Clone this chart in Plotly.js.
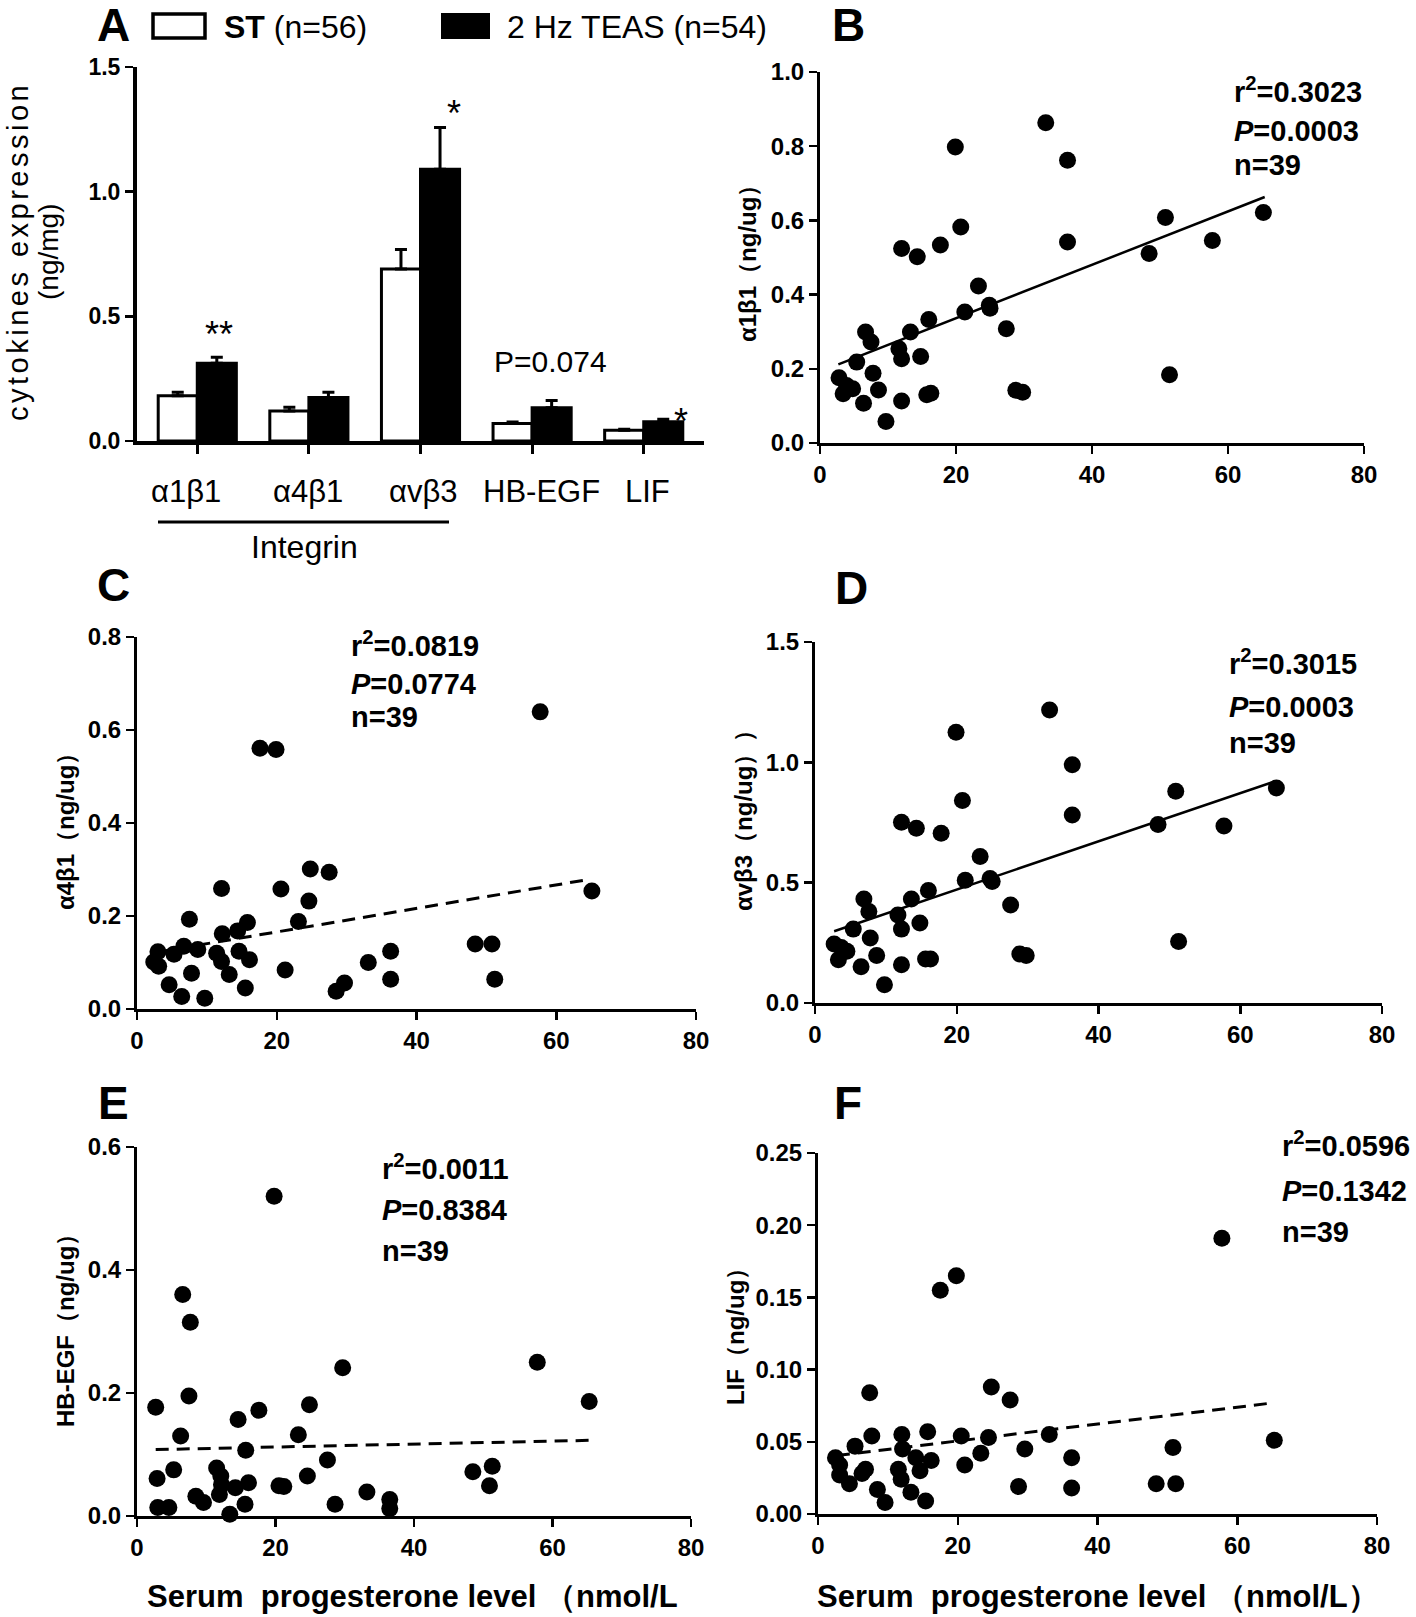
<!DOCTYPE html>
<html>
<head>
<meta charset="utf-8">
<script src="https://cdn.plot.ly/plotly-3.0.1.min.js"></script>
<style>html,body{margin:0;padding:0;background:#fff;}#chart{width:1416px;height:1617px;}</style>
</head>
<body>
<div id="chart"></div>
<script>
// ---------- Panel A data ----------
const barCategories = ["α1β1", "α4β1", "αvβ3", "HB-EGF", "LIF"];
const stMeans   = [0.181, 0.120, 0.690, 0.070, 0.043];
const stErr     = [0.015, 0.015, 0.078, 0.006, 0.004];
const teasMeans = [0.312, 0.174, 1.090, 0.133, 0.077];
const teasErr   = [0.024, 0.022, 0.167, 0.029, 0.010];
const stName = "ST (n=56)";
const teasName = "2 Hz TEAS (n=54)";

// ---------- Panel B: α1β1 vs progesterone ----------
const bX = [33.2,19.9,36.4,20.7,50.8,65.2,36.4,57.7,48.4,12.0,14.3,17.7,23.3,21.3,24.9,25.0,16.0,27.4,6.7,7.5,13.3,11.6,12.0,14.8,5.4,7.8,2.8,3.4,3.9,4.8,8.6,6.4,12.0,9.7,15.7,16.3,28.8,29.8,51.4];
const bY = [0.863,0.798,0.762,0.582,0.608,0.621,0.542,0.546,0.511,0.524,0.502,0.534,0.423,0.353,0.371,0.363,0.333,0.308,0.299,0.272,0.299,0.254,0.227,0.233,0.218,0.188,0.176,0.133,0.155,0.146,0.143,0.107,0.113,0.058,0.130,0.134,0.142,0.137,0.184];
const bFitX = [2.7, 65.4];
const bFitY = [0.212, 0.663];

// ---------- Panel C: α4β1 ----------
const cX = [57.7,17.6,19.9,24.8,27.5,12.1,20.6,65.1,24.6,7.5,23.1,15.8,14.4,12.2,3.0,5.3,6.7,8.7,2.4,3.1,11.4,12.1,13.2,14.6,16.1,7.8,4.6,6.4,9.7,15.5,21.2,28.5,29.7,33.1,36.3,36.3,48.4,50.8,51.2];
const cY = [0.639,0.561,0.558,0.301,0.294,0.259,0.258,0.254,0.232,0.193,0.188,0.186,0.168,0.162,0.123,0.118,0.135,0.128,0.101,0.092,0.120,0.102,0.074,0.124,0.106,0.077,0.052,0.027,0.023,0.045,0.084,0.038,0.056,0.100,0.124,0.064,0.140,0.140,0.064];
const cFitX = [2.7, 64.8];
const cFitY = [0.122, 0.279];

// ---------- Panel D: αvβ3 ----------
const dX = [33.1,19.9,36.3,20.8,50.9,65.1,36.3,57.7,48.4,12.2,14.3,17.8,23.3,21.2,24.7,25.0,16.0,27.6,6.9,7.6,13.6,11.7,12.2,14.8,5.4,7.8,2.7,3.3,4.5,8.7,6.5,12.2,9.8,15.6,16.3,28.9,29.8,51.3,3.7];
const dY = [1.217,1.125,0.990,0.841,0.880,0.893,0.781,0.735,0.742,0.751,0.726,0.705,0.609,0.510,0.517,0.505,0.467,0.407,0.432,0.380,0.432,0.366,0.307,0.332,0.307,0.270,0.245,0.180,0.215,0.197,0.151,0.159,0.076,0.183,0.183,0.204,0.197,0.256,0.231];
const dFitX = [2.7, 64.8];
const dFitY = [0.298, 0.920];

// ---------- Panel E: HB-EGF ----------
const eX = [19.8,6.6,7.7,29.7,57.8,2.7,7.5,65.3,24.9,17.6,14.6,6.3,23.3,15.7,27.5,2.9,5.3,11.5,12.1,12.2,14.2,16.1,24.6,20.5,21.2,48.5,51.3,50.9,8.5,9.6,11.9,3.0,4.6,13.4,15.6,28.6,33.2,36.5,36.5];
const eY = [0.520,0.360,0.315,0.241,0.250,0.177,0.195,0.186,0.181,0.172,0.157,0.130,0.132,0.107,0.091,0.061,0.075,0.078,0.065,0.051,0.046,0.054,0.065,0.049,0.048,0.072,0.081,0.049,0.032,0.022,0.035,0.014,0.014,0.003,0.019,0.019,0.039,0.027,0.012];
const eFitX = [2.7, 65.3];
const eFitY = [0.108, 0.123];

// ---------- Panel F: LIF ----------
const fX = [57.8,19.8,17.5,24.8,27.5,7.4,7.7,12.0,15.7,20.5,24.4,33.1,65.3,5.3,29.6,50.8,12.1,23.3,2.5,36.3,14.0,16.2,21.0,6.8,11.5,14.6,3.1,6.3,4.5,11.9,8.5,13.3,9.6,15.4,28.7,36.3,48.4,51.2,3.1];
const fY = [0.191,0.165,0.155,0.088,0.079,0.084,0.054,0.055,0.057,0.054,0.053,0.055,0.051,0.047,0.045,0.046,0.045,0.042,0.039,0.039,0.039,0.037,0.034,0.031,0.031,0.030,0.027,0.028,0.021,0.024,0.017,0.015,0.008,0.009,0.019,0.018,0.021,0.021,0.034];
const fFitX = [2.7, 65.2];
const fFitY = [0.0405, 0.077];

const xTicks = [0, 20, 40, 60, 80];
const progTitleLeft = "Serum  progesterone level （nmol/L";
const progTitleRight = "Serum  progesterone level （nmol/L）";

// ---------- helpers ----------
const W = 1416, H = 1617;
const px = v => v / W;
const py = v => 1 - v / H;
const FONT = "Liberation Sans, Arial, sans-serif";
const tickFont = {family: FONT, size: 24, color: "#000", weight: "bold"};

function scatterAxis(domain, extra) {
  return Object.assign({
    domain: domain, showgrid: false, zeroline: false, showline: true,
    linecolor: "#000", linewidth: 3, ticks: "outside", ticklen: 8, tickwidth: 2.5,
    tickcolor: "#000", tickfont: tickFont, fixedrange: true
  }, extra);
}

const traces = [];
// Panel A bars
traces.push({type: "bar", x: barCategories, y: stMeans, name: stName, xaxis: "x", yaxis: "y",
  marker: {color: "#fff", line: {color: "#000", width: 3}},
  error_y: {type: "data", symmetric: false, array: stErr, arrayminus: stMeans.map(() => 0), color: "#000", thickness: 3, width: 6},
  showlegend: false});
traces.push({type: "bar", x: barCategories, y: teasMeans, name: teasName, xaxis: "x", yaxis: "y",
  marker: {color: "#000", line: {color: "#000", width: 3}},
  error_y: {type: "data", symmetric: false, array: teasErr, arrayminus: teasMeans.map(() => 0), color: "#000", thickness: 3, width: 6},
  showlegend: false});

function addScatter(xs, ys, fx, fy, n, dashed) {
  traces.push({type: "scatter", mode: "lines", x: fx, y: fy, xaxis: "x" + n, yaxis: "y" + n,
    line: {color: "#000", width: dashed ? 3 : 2.5, dash: dashed ? "13px,8px" : "solid"}, showlegend: false, cliponaxis: false});
  traces.push({type: "scatter", mode: "markers", x: xs, y: ys, xaxis: "x" + n, yaxis: "y" + n,
    marker: {color: "#000", size: 17, line: {width: 0}}, showlegend: false, cliponaxis: false});
}
addScatter(bX, bY, bFitX, bFitY, 2, false);
addScatter(cX, cY, cFitX, cFitY, 3, true);
addScatter(dX, dY, dFitX, dFitY, 4, false);
addScatter(eX, eY, eFitX, eFitY, 5, true);
addScatter(fX, fY, fFitX, fFitY, 6, true);

const xAx = (d) => scatterAxis(d, {range: [0, 80], tickvals: xTicks, ticktext: xTicks.map(String)});

const layout = {
  width: W, height: H, margin: {l: 0, r: 0, t: 0, b: 0},
  paper_bgcolor: "#fff", plot_bgcolor: "rgba(0,0,0,0)",
  barmode: "group", bargap: 0.3, bargroupgap: 0,
  showlegend: false,
  // Panel A
  xaxis: scatterAxis([px(137), px(704)], {type: "category", range: [-0.54, 4.54], showticklabels: false, linewidth: 4, ticklen: 9, tickwidth: 3}),
  yaxis: scatterAxis([py(441), py(67)], {range: [0, 1.5], tickvals: [0, 0.5, 1.0, 1.5], ticktext: ["0.0","0.5","1.0","1.5"], linewidth: 4, tickfont: {family: FONT, size: 23, color: "#000", weight: "bold"}}),
  // Panel B
  xaxis2: xAx([px(820), px(1364)]),
  yaxis2: scatterAxis([py(443), py(72)], {anchor: "x2", range: [0, 1.0], tickvals: [0,0.2,0.4,0.6,0.8,1.0], ticktext: ["0.0","0.2","0.4","0.6","0.8","1.0"]}),
  // Panel C
  xaxis3: xAx([px(137), px(696)]),
  yaxis3: scatterAxis([py(1009), py(637)], {anchor: "x3", range: [0, 0.8], tickvals: [0,0.2,0.4,0.6,0.8], ticktext: ["0.0","0.2","0.4","0.6","0.8"]}),
  // Panel D
  xaxis4: xAx([px(815), px(1382)]),
  yaxis4: scatterAxis([py(1003), py(642)], {anchor: "x4", range: [0, 1.5], tickvals: [0,0.5,1.0,1.5], ticktext: ["0.0","0.5","1.0","1.5"]}),
  // Panel E
  xaxis5: xAx([px(137), px(691)]),
  yaxis5: scatterAxis([py(1516), py(1147)], {anchor: "x5", range: [0, 0.6], tickvals: [0,0.2,0.4,0.6], ticktext: ["0.0","0.2","0.4","0.6"]}),
  // Panel F
  xaxis6: xAx([px(818), px(1377)]),
  yaxis6: scatterAxis([py(1514), py(1153)], {anchor: "x6", range: [0, 0.25], tickvals: [0,0.05,0.10,0.15,0.20,0.25], ticktext: ["0.00","0.05","0.10","0.15","0.20","0.25"]}),
  shapes: [], annotations: []
};
layout.xaxis.anchor = "y";
layout.yaxis.anchor = "x";
layout.xaxis2.anchor = "y2"; layout.xaxis3.anchor = "y3"; layout.xaxis4.anchor = "y4";
layout.xaxis5.anchor = "y5"; layout.xaxis6.anchor = "y6";

function ann(text, x, y, opts) {
  layout.annotations.push(Object.assign({text: text, x: px(x), y: py(y), xref: "paper", yref: "paper",
    showarrow: false, xanchor: "center", yanchor: "middle",
    font: {family: FONT, size: 28, color: "#000"}}, opts || {}));
}
// Panel letters
const letterFont = {family: FONT, size: 46, color: "#000", weight: "bold"};
ann("A", 113, 25, {font: letterFont});
ann("B", 848, 25, {font: letterFont});
ann("C", 113, 585, {font: letterFont});
ann("D", 851, 588, {font: letterFont});
ann("E", 113, 1103, {font: letterFont});
ann("F", 848, 1103, {font: letterFont});

// Legend (panel A)
layout.shapes.push({type: "rect", xref: "paper", yref: "paper", x0: px(153), x1: px(205), y0: py(14), y1: py(38), line: {color: "#000", width: 3.5}, fillcolor: "#fff"});
layout.shapes.push({type: "rect", xref: "paper", yref: "paper", x0: px(442), x1: px(489), y0: py(14), y1: py(38), line: {color: "#000", width: 2}, fillcolor: "#000"});
ann("<b>ST</b> (n=56)", 222, 27, {xanchor: "left", font: {family: FONT, size: 32, color: "#000"}});
ann(teasName, 505, 27, {xanchor: "left", font: {family: FONT, size: 32, color: "#000"}});

// Panel A y title
ann("cytokines expression", 18, 252, {textangle: -90, font: {family: FONT, size: 29, color: "#000"}});
ann("(ng/mg)", 48, 252, {textangle: -90, font: {family: FONT, size: 28, color: "#000"}});

// Panel A category labels
const catLabelX = [186, 308, 423, 541, 647];
barCategories.forEach((c, i) => ann(c, catLabelX[i], 491, {font: {family: FONT, size: 31, color: "#000"}}));
layout.shapes.push({type: "line", xref: "paper", yref: "paper", x0: px(158), x1: px(449), y0: py(522), y1: py(522), line: {color: "#000", width: 3}});
ann("Integrin", 304, 547, {font: {family: FONT, size: 32, color: "#000"}});

// Significance marks
ann("**", 219, 335, {font: {family: FONT, size: 36, color: "#000"}});
ann("*", 454, 113, {font: {family: FONT, size: 36, color: "#000"}});
ann("*", 681, 421, {font: {family: FONT, size: 36, color: "#000"}});
ann("P=0.074", 550, 361, {font: {family: FONT, size: 30, color: "#000"}});

// Stats annotations
const statFont = {family: FONT, size: 29, color: "#000", weight: "bold"};
function stats(lines, x, ys) {
  lines.forEach((t, i) => ann(t, x, ys[i], {xanchor: "left", font: statFont}));
}
stats(["r<sup>2</sup>=0.3023", "<i>P</i>=0.0003", "n=39"], 1232, [90, 131, 165]);
stats(["r<sup>2</sup>=0.0819", "<i>P</i>=0.0774", "n=39"], 349, [644, 684, 717]);
stats(["r<sup>2</sup>=0.3015", "<i>P</i>=0.0003", "n=39"], 1227, [662, 707, 743]);
stats(["r<sup>2</sup>=0.0011", "<i>P</i>=0.8384", "n=39"], 380, [1167, 1210, 1251]);
stats(["r<sup>2</sup>=0.0596", "<i>P</i>=0.1342", "n=39"], 1280, [1144, 1191, 1232]);

// Y axis titles for scatter panels
const yTitleFont = {family: FONT, size: 24, color: "#000", weight: "bold"};
ann("α1β1（ng/ug）", 747, 258, {textangle: -90, font: yTitleFont});
ann("α4β1（ng/ug）", 65, 826, {textangle: -90, font: yTitleFont});
ann("αvβ3（ng/ug））", 743, 815, {textangle: -90, font: yTitleFont});
ann("HB-EGF（ng/ug）", 65, 1325, {textangle: -90, font: yTitleFont});
ann("LIF（ng/ug）", 735, 1330, {textangle: -90, font: yTitleFont});

// Bottom x titles
const xTitleFont = {family: FONT, size: 31, color: "#000", weight: "bold"};
ann(progTitleLeft, 412, 1596, {font: xTitleFont});
ann(progTitleRight, 1098, 1596, {font: xTitleFont});

Plotly.newPlot("chart", traces, layout, {staticPlot: true, displayModeBar: false}).then(() => {
  document.querySelectorAll("#chart .annotation-text").forEach(t => {
    if (t.textContent === "cytokines expression") t.setAttribute("letter-spacing", "3.5px");
  });
});
</script>
</body>
</html>
